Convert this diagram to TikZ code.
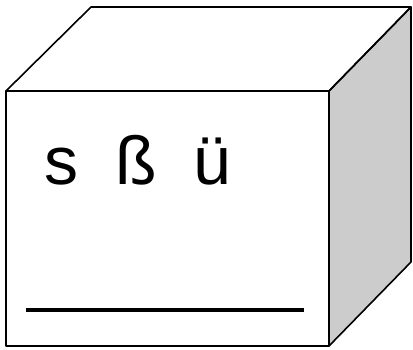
\documentclass[tikz,border=0pt]{standalone}
\usepackage{fontspec}
\setmainfont{Liberation Sans}
\definecolor{sidegray}{RGB}{204,204,204}
\tikzset{edge/.style={line width=1.6pt,line join=round},
	letter/.style={anchor=base,inner sep=0pt,font=\fontsize{68}{68}\selectfont}}
\begin{document}
\begin{tikzpicture}[x=1pt,y=-1pt]
		\useasboundingbox (0,0) rectangle (413,349);
		\coordinate (A) at (6,91);
		\coordinate (B) at (329,91);
		\coordinate (C) at (329,346);
		\coordinate (D) at (6,346);
		\coordinate (E) at (91,7);
		\coordinate (F) at (411,7);
		\coordinate (G) at (411,262);
		% side and top
		\filldraw[edge,fill=sidegray] (B) -- (F) -- (G) -- (C) -- cycle;
		\draw[edge] (A) -- (E) -- (F) -- (B);
		% front
		\draw[edge] (A) rectangle (C);
		\node[letter] (s) at (61.5,184) {s};
		\node[letter] (sz) at (136.5,184) {ß};
		\node[letter] (ue) at (212.5,184) {ü};
		\coordinate (L1) at (26,310);
		\coordinate (L2) at (304,310);
		\draw[line width=4.5pt] (L1) -- (L2);
	\end{tikzpicture}
\end{document}
